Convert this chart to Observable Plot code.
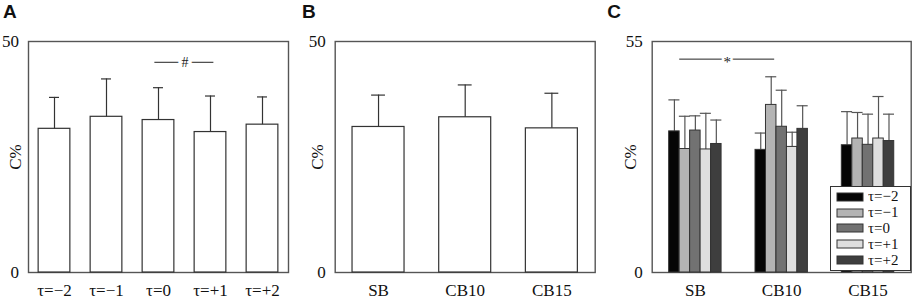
<!DOCTYPE html>
<html><head><meta charset="utf-8">
<script src="https://cdn.jsdelivr.net/npm/d3@7"></script>
<script src="https://cdn.jsdelivr.net/npm/@observablehq/plot@0.6"></script>
<style>
html,body{margin:0;padding:0;background:#fff;}
#wrap{position:relative;width:913px;height:299px;overflow:hidden;background:#fff;}
#wrap > .panel{position:absolute;top:0;}
#wrap .legc-swatches{position:absolute;left:830px;top:186px;width:81px;height:85px;box-sizing:border-box;border:1px solid #333;background:#fff;font-family:"Liberation Serif",serif;font-size:15px;color:#111;padding:2px 0 0 6px;margin:0;}
#wrap .legc-swatch{height:15.8px;padding-bottom:0;display:flex;align-items:center;}
#wrap .legc-swatch > svg{margin-right:5px;}
#wrap .legc-swatch rect{stroke:#333;stroke-width:1;}
</style>
</head><body><div id="wrap"></div>
<script>
// ---------- data ----------
const catsA = ["τ=−2", "τ=−1", "τ=0", "τ=+1", "τ=+2"];
const meanA = [31.1, 33.7, 33.0, 30.4, 32.0];
const sdA   = [6.8, 8.2, 7.0, 7.8, 6.0];
const sigA  = {from: "τ=0", to: "τ=+1", y: 45.5, label: "#"};

const catsB = ["SB", "CB10", "CB15"];
const meanB = [31.5, 33.6, 31.2];
const sdB   = [6.9, 7.0, 7.6];

const groupsC = ["SB", "CB10", "CB15"];
const seriesC = ["τ=−2", "τ=−1", "τ=0", "τ=+1", "τ=+2"];
const colorsC = ["#050505", "#b4b4b4", "#727272", "#dedede", "#3e3e3e"];
const meanC_SB   = [33.6, 29.4, 33.8, 29.3, 30.6];
const sdC_SB     = [7.5, 7.8, 3.5, 8.6, 5.7];
const meanC_CB10 = [29.2, 39.9, 34.7, 29.9, 34.2];
const sdC_CB10   = [4.0, 6.7, 8.7, 3.5, 5.5];
const meanC_CB15 = [30.3, 31.9, 30.4, 31.9, 31.3];
const sdC_CB15   = [8.0, 6.2, 7.3, 10.0, 6.4];
const sigC = {fromGroup: "SB", toGroup: "CB10", series: "τ=−1", y: 50.8, label: "*"};

const yMaxA = 50, yMaxB = 50, yMaxC = 55;

// ---------- helpers ----------
const FONT = "Liberation Serif";
const wrap = document.getElementById("wrap");

function place(svg, left) {
  svg.classList.add("panel");
  svg.style.left = left + "px";
  wrap.appendChild(svg);
}

function commonMarks(cats, yMax, letter, letterDx, labelDx) {
  return [
    Plot.axisY({ticks: [0, yMax], tickSize: 0, tickPadding: 9.5, label: null}),
    Plot.axisX({ticks: cats.map((d, i) => i), tickFormat: i => cats[i], tickSize: 0, tickPadding: 11.5, label: null}),
    Plot.text([letter], {frameAnchor: "top-left", dx: letterDx, dy: -37, text: d => d,
      textAnchor: "start", lineAnchor: "top", fontFamily: "Liberation Sans", fontWeight: "bold", fontSize: 19, fill: "#111"}),
    Plot.text(["C%"], {frameAnchor: "left", dx: labelDx, text: d => d, rotate: -90,
      textAnchor: "middle", lineAnchor: "middle", fontSize: 17, fill: "#111"})
  ];
}

function simplePanel({cats, means, sds, yMax, width, ml, mr, letter, letterDx, labelDx, half, cap, sig, left}) {
  const rows = cats.map((c, i) => ({cat: c, i, mean: means[i], up: means[i] + sds[i]}));
  const marks = [
    Plot.frame({stroke: "#555", strokeWidth: 1.4}),
    Plot.rectY(rows, {x1: d => d.i - half, x2: d => d.i + half, y1: 0, y2: "mean", fill: "white", stroke: "#333", strokeWidth: 1.2}),
    Plot.ruleX(rows, {x: "i", y1: "mean", y2: "up", stroke: "#333", strokeWidth: 1.2}),
    Plot.ruleY(rows, {y: "up", x1: d => d.i - cap, x2: d => d.i + cap, stroke: "#333", strokeWidth: 1.2})
  ];
  if (sig) {
    const a = cats.indexOf(sig.from), b = cats.indexOf(sig.to);
    marks.push(
      Plot.ruleY([sig], {y: "y", x1: () => a - 0.07, x2: () => b + 0.065, stroke: "#222", strokeWidth: 1}),
      Plot.text([sig], {x: () => (a + b) / 2 + 0.01, y: "y", text: "label", fontSize: 14, fill: "#222", stroke: "white", strokeWidth: 7, lineAnchor: "middle"})
    );
  }
  marks.push(...commonMarks(cats, yMax, letter, letterDx, labelDx));
  const svg = Plot.plot({
    width, height: 299,
    marginLeft: ml, marginRight: mr, marginTop: 41, marginBottom: 27,
    x: {type: "linear", domain: [-0.5, cats.length - 0.5]},
    y: {domain: [0, yMax]},
    style: {fontFamily: FONT, fontSize: "17px", color: "#111", background: "transparent", overflow: "visible"},
    marks
  });
  place(svg, left);
}

// Panel A
simplePanel({cats: catsA, means: meanA, sds: sdA, yMax: yMaxA, width: 300, ml: 28, mr: 12,
  letter: "A", letterDx: -25.5, labelDx: -13, half: 0.305, cap: 0.096, sig: sigA, left: 0});

// Panel B
simplePanel({cats: catsB, means: meanB, sds: sdB, yMax: yMaxB, width: 305, ml: 34.7, mr: 10.3,
  letter: "B", letterDx: -33.3, labelDx: -18, half: 0.3, cap: 0.08, sig: null, left: 300});

// Panel C
{
  const meansC = [meanC_SB, meanC_CB10, meanC_CB15];
  const sdsC = [sdC_SB, sdC_CB10, sdC_CB15];
  const bw = 0.607 / seriesC.length;
  const pos = (gi, si) => gi + (si - (seriesC.length - 1) / 2) * bw;
  const rows = groupsC.flatMap((g, gi) => seriesC.map((s, si) => ({
    group: g, series: s, c: pos(gi, si), mean: meansC[gi][si], up: meansC[gi][si] + sdsC[gi][si]
  })));
  const si = seriesC.indexOf(sigC.series);
  const xa = pos(groupsC.indexOf(sigC.fromGroup), si);
  const xb = pos(groupsC.indexOf(sigC.toGroup), si);
  const colorScale = {type: "ordinal", domain: seriesC, range: colorsC};
  const svg = Plot.plot({
    width: 308, height: 299,
    marginLeft: 46.7, marginRight: 2.3, marginTop: 41, marginBottom: 27,
    x: {type: "linear", domain: [-0.5, groupsC.length - 0.5]},
    y: {domain: [0, yMaxC]},
    color: colorScale,
    style: {fontFamily: FONT, fontSize: "17px", color: "#111", background: "transparent", overflow: "visible"},
    marks: [
      Plot.frame({stroke: "#555", strokeWidth: 1.4}),
      Plot.ruleX(rows, {x: "c", y1: "mean", y2: "up", stroke: "#555", strokeWidth: 1.2}),
      Plot.ruleY(rows, {y: "up", x1: d => d.c - 0.064, x2: d => d.c + 0.064, stroke: "#555", strokeWidth: 1.2}),
      Plot.rectY(rows, {x1: d => d.c - bw / 2, x2: d => d.c + bw / 2, y1: 0, y2: "mean", fill: "series", stroke: "#333", strokeWidth: 1}),
      Plot.ruleY([sigC], {y: "y", x1: () => xa - 0.06, x2: () => xb + 0.04, stroke: "#222", strokeWidth: 1}),
      Plot.text([sigC], {x: () => (xa + xb) / 2 - 0.01, y: "y", text: "label", fontSize: 15, dy: 3, fill: "#222", stroke: "white", strokeWidth: 5, lineAnchor: "middle"}),
      ...commonMarks(groupsC, yMaxC, "C", -45, -21.7)
    ]
  });
  place(svg, 605);
  const leg = Plot.legend({color: colorScale, legend: "swatches", columns: 1, swatchWidth: 26, swatchHeight: 8, className: "legc"});
  wrap.appendChild(leg);
}
</script>
</body></html>
